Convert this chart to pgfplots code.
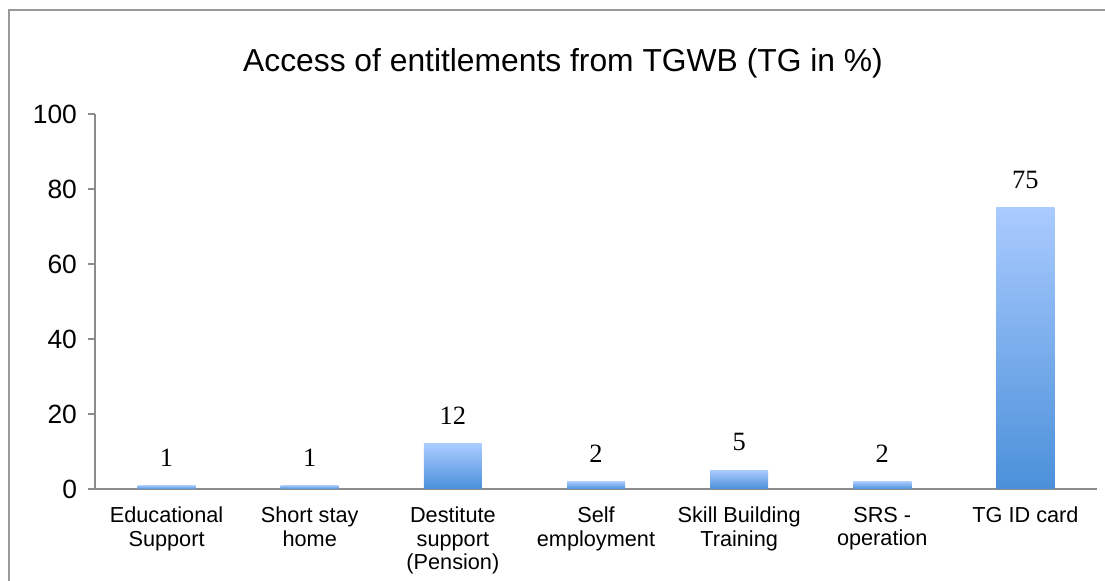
\documentclass[border=0pt]{standalone}
\usepackage{pgfplots}
\pgfplotsset{compat=1.18}
\usepackage{fontspec}
\setmainfont{Liberation Sans}
\newfontfamily\serifnum{Liberation Serif}
\definecolor{axisgray}{HTML}{8C8C8C}
\definecolor{framegray}{HTML}{9A9A9A}
\definecolor{bartop}{HTML}{AACBFF}
\definecolor{barbot}{HTML}{4A90D9}
\begin{document}
\begin{tikzpicture}
\useasboundingbox (0,0) rectangle (552.5pt,290.5pt);
\begin{scope}
\clip (0,0) rectangle (552.5pt,290.5pt);
\draw[framegray, line width=1pt] (4.5pt,-40pt) rectangle (620pt,285.5pt);
\end{scope}
\node[font=\fontsize{15.9}{18}\selectfont, anchor=center] at (281.5pt,259pt) {Access of entitlements from TGWB (TG in \%)};
\begin{axis}[
  at={(47.5pt,46pt)}, anchor=south west,
  scale only axis,
  width=501pt, height=187.5pt,
  xmin=-0.5, xmax=6.5,
  ymin=0, ymax=100,
  axis lines*=left,
  axis line style={axisgray, line width=1pt},
  every tick/.style={axisgray, line width=1pt},
  tick align=outside,
  major tick length=3.5pt,
  ytick={0,20,40,60,80,100},
  yticklabel style={font=\fontsize{13.2}{15}\selectfont, xshift=-2pt},
  /pgf/number format/assume math mode=true,
  xtick={0,...,6},
  xticklabels={Educational\\Support, Short stay\\home, Destitute\\support\\(Pension), Self\\employment, Skill Building\\Training, SRS -\\operation, TG ID card},
  xticklabel style={align=center, anchor=north, font=\fontsize{10.85}{11.7}\selectfont, yshift=-2pt},
  major x tick style={draw=none},
  extra x ticks={-0.5,0.5,1.5,2.5,3.5,4.5,5.5,6.5},
  extra x tick labels={},
  extra x tick style={major tick length=3.5pt, major x tick style={axisgray, line width=1pt}},
  x axis line style={-},
  y axis line style={-},
  ybar, bar width=29pt,
  nodes near coords,
  every node near coord/.append style={font=\serifnum\fontsize{13.2}{15}\selectfont, yshift=6pt},
  clip=false,
]
\addplot[ybar, bar shift=0pt, draw=none, top color=bartop, bottom color=barbot] coordinates {(0,1)};
\addplot[ybar, bar shift=0pt, draw=none, top color=bartop, bottom color=barbot] coordinates {(1,1)};
\addplot[ybar, bar shift=0pt, draw=none, top color=bartop, bottom color=barbot] coordinates {(2,12)};
\addplot[ybar, bar shift=0pt, draw=none, top color=bartop, bottom color=barbot] coordinates {(3,2)};
\addplot[ybar, bar shift=0pt, draw=none, top color=bartop, bottom color=barbot] coordinates {(4,5)};
\addplot[ybar, bar shift=0pt, draw=none, top color=bartop, bottom color=barbot] coordinates {(5,2)};
\addplot[ybar, bar shift=0pt, draw=none, top color=bartop, bottom color=barbot] coordinates {(6,75)};
\end{axis}
\end{tikzpicture}
\end{document}
